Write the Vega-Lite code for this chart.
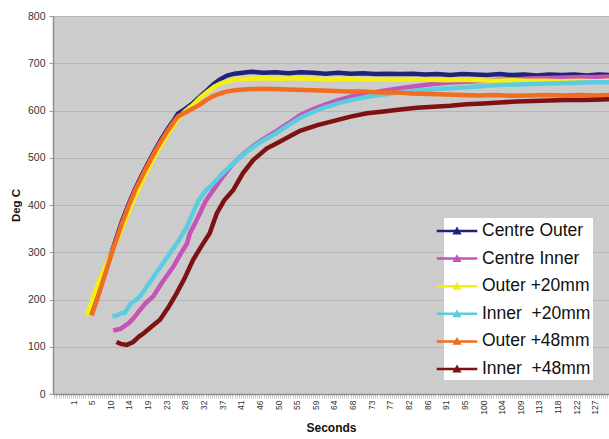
{
  "$schema": "https://vega.github.io/schema/vega-lite/v6.json",
  "width": 556,
  "height": 378,
  "autosize": {"type": "none"},
  "padding": {"left": 53, "top": 16, "right": 0, "bottom": 45},
  "background": "white",
  "config": {
    "font": "Liberation Sans",
    "view": {"fill": "#cccccc", "stroke": "#b4b4b4", "strokeWidth": 1}
  },
  "datasets": {
    "CO": [
      {"t":5.4,"v":168},{"t":6.5,"v":196},{"t":7.5,"v":222},{"t":8.5,"v":250},{"t":10,"v":291},{"t":11.5,"v":331},{"t":12.8,"v":365},{"t":14.4,"v":401},{"t":16,"v":434},{"t":17.6,"v":463},{"t":19.2,"v":490},{"t":20.8,"v":516},{"t":22.4,"v":541},{"t":24,"v":563},{"t":25.6,"v":583},{"t":26.3,"v":593},{"t":27,"v":597},{"t":28.2,"v":604},{"t":30,"v":616},{"t":31.7,"v":630},{"t":33.4,"v":643},{"t":35,"v":656},{"t":36.5,"v":666},{"t":38.2,"v":674},{"t":40,"v":678},{"t":42,"v":680},{"t":44,"v":682},{"t":47,"v":680},{"t":50,"v":681},{"t":53,"v":679},{"t":56,"v":681},{"t":59,"v":680},{"t":62,"v":678},{"t":65,"v":680},{"t":68,"v":678},{"t":71,"v":679},{"t":74,"v":677},{"t":77,"v":678},{"t":80,"v":677},{"t":83,"v":678},{"t":86,"v":676},{"t":89,"v":677},{"t":92,"v":675},{"t":95,"v":677},{"t":98,"v":676},{"t":101,"v":675},{"t":104,"v":677},{"t":107,"v":675},{"t":110,"v":676},{"t":113,"v":674},{"t":116,"v":676},{"t":119,"v":675},{"t":122,"v":676},{"t":125,"v":674},{"t":128,"v":676},{"t":130.4,"v":675}
    ],
    "CI": [
      {"t":10.7,"v":134},{"t":11.5,"v":136},{"t":12.5,"v":138},{"t":13.5,"v":144},{"t":14.5,"v":150},{"t":15.6,"v":160},{"t":17,"v":176},{"t":18.5,"v":192},{"t":20.4,"v":207},{"t":22.5,"v":236},{"t":25.2,"v":269},{"t":27,"v":297},{"t":28.5,"v":318},{"t":29.2,"v":340},{"t":30.5,"v":362},{"t":31.6,"v":382},{"t":33,"v":408},{"t":34.9,"v":432},{"t":37,"v":458},{"t":39.7,"v":488},{"t":42,"v":507},{"t":44.5,"v":525},{"t":47,"v":540},{"t":50.2,"v":557},{"t":53,"v":573},{"t":55.8,"v":590},{"t":59,"v":603},{"t":62,"v":613},{"t":65,"v":622},{"t":68,"v":629},{"t":72,"v":636},{"t":76,"v":642},{"t":80,"v":647},{"t":84,"v":652},{"t":88,"v":656},{"t":92,"v":659},{"t":96,"v":661},{"t":100,"v":663},{"t":104,"v":665},{"t":108,"v":666},{"t":112,"v":668},{"t":116,"v":669},{"t":120,"v":670},{"t":124,"v":671},{"t":127,"v":671},{"t":130.4,"v":672}
    ],
    "O20": [
      {"t":4.3,"v":166},{"t":5.5,"v":196},{"t":7,"v":233},{"t":8.5,"v":263},{"t":10,"v":291},{"t":11.5,"v":324},{"t":13,"v":355},{"t":14.5,"v":387},{"t":16,"v":418},{"t":17.6,"v":449},{"t":19.2,"v":477},{"t":20.8,"v":504},{"t":22.4,"v":529},{"t":24,"v":552},{"t":25.6,"v":572},{"t":26.4,"v":584},{"t":28,"v":598},{"t":30,"v":612},{"t":31.7,"v":627},{"t":33.4,"v":639},{"t":35,"v":650},{"t":36.5,"v":657},{"t":38.2,"v":662},{"t":40,"v":665},{"t":43,"v":667},{"t":47,"v":668},{"t":51,"v":667},{"t":55,"v":668},{"t":59,"v":667},{"t":63,"v":666},{"t":67,"v":667},{"t":71,"v":666},{"t":75,"v":666},{"t":79,"v":665},{"t":83,"v":666},{"t":87,"v":665},{"t":91,"v":664},{"t":95,"v":665},{"t":99,"v":664},{"t":103,"v":663},{"t":107,"v":664},{"t":111,"v":663},{"t":115,"v":663},{"t":119,"v":662},{"t":123,"v":663},{"t":127,"v":662},{"t":130.4,"v":663}
    ],
    "I20": [
      {"t":10.5,"v":164},{"t":11.5,"v":166},{"t":12.5,"v":170},{"t":13.5,"v":172},{"t":14.8,"v":190},{"t":16,"v":198},{"t":17.2,"v":207},{"t":18.4,"v":222},{"t":19.6,"v":237},{"t":21,"v":255},{"t":22.5,"v":274},{"t":24.4,"v":298},{"t":26.5,"v":325},{"t":28.4,"v":352},{"t":29.8,"v":380},{"t":31.2,"v":408},{"t":33,"v":430},{"t":34.9,"v":446},{"t":37,"v":466},{"t":39.7,"v":488},{"t":42,"v":506},{"t":44.5,"v":523},{"t":47,"v":537},{"t":50.2,"v":553},{"t":53,"v":569},{"t":55.8,"v":584},{"t":59,"v":597},{"t":62,"v":607},{"t":65,"v":615},{"t":68,"v":622},{"t":72,"v":629},{"t":76,"v":634},{"t":80,"v":639},{"t":84,"v":642},{"t":88,"v":645},{"t":92,"v":647},{"t":96,"v":649},{"t":100,"v":652},{"t":104,"v":654},{"t":108,"v":655},{"t":112,"v":656},{"t":116,"v":657},{"t":120,"v":658},{"t":124,"v":659},{"t":127,"v":660},{"t":130.4,"v":660}
    ],
    "O48": [
      {"t":5.5,"v":166},{"t":7,"v":205},{"t":8.5,"v":247},{"t":10,"v":288},{"t":11.5,"v":327},{"t":12.8,"v":361},{"t":14.4,"v":397},{"t":16,"v":431},{"t":17.6,"v":460},{"t":19.2,"v":487},{"t":20.8,"v":513},{"t":22.4,"v":537},{"t":24,"v":559},{"t":25.6,"v":579},{"t":26.4,"v":588},{"t":28,"v":595},{"t":29.7,"v":603},{"t":31.5,"v":612},{"t":33,"v":621},{"t":34.5,"v":629},{"t":36.5,"v":636},{"t":38,"v":640},{"t":40,"v":643},{"t":43,"v":645},{"t":47,"v":646},{"t":51,"v":645},{"t":55,"v":644},{"t":59,"v":643},{"t":63,"v":642},{"t":67,"v":640},{"t":71,"v":640},{"t":75,"v":638},{"t":79,"v":638},{"t":83,"v":636},{"t":87,"v":635},{"t":91,"v":634},{"t":95,"v":633},{"t":99,"v":632},{"t":103,"v":633},{"t":107,"v":631},{"t":111,"v":632},{"t":115,"v":633},{"t":119,"v":632},{"t":123,"v":633},{"t":127,"v":632},{"t":130.4,"v":633}
    ],
    "I48": [
      {"t":11.5,"v":110},{"t":12.5,"v":106},{"t":14,"v":104},{"t":15.5,"v":110},{"t":17,"v":122},{"t":18,"v":128},{"t":20,"v":143},{"t":22,"v":157},{"t":24,"v":183},{"t":26,"v":213},{"t":28,"v":246},{"t":30,"v":284},{"t":32,"v":313},{"t":34,"v":340},{"t":35.7,"v":382},{"t":37.5,"v":410},{"t":39.7,"v":432},{"t":42,"v":467},{"t":44.5,"v":495},{"t":47.8,"v":520},{"t":49.4,"v":527},{"t":52,"v":539},{"t":55.8,"v":557},{"t":60,"v":569},{"t":64,"v":578},{"t":68,"v":587},{"t":72,"v":594},{"t":76,"v":598},{"t":80,"v":602},{"t":84,"v":606},{"t":88,"v":608},{"t":92,"v":610},{"t":96,"v":613},{"t":100,"v":615},{"t":104,"v":617},{"t":108,"v":619},{"t":112,"v":620},{"t":116,"v":621},{"t":120,"v":622},{"t":124,"v":622},{"t":127,"v":623},{"t":130.4,"v":624}
    ]
  },
  "encoding": {
    "x": {
      "field": "t", "type": "quantitative",
      "scale": {"domain": [-3.83, 130.4], "nice": false, "zero": false},
      "axis": {
        "title": "Seconds", "titleFontSize": 12, "titleFontWeight": "bold", "titleColor": "#111111", "titlePadding": 8,
        "grid": false, "domainColor": "#8f8f8f", "domainWidth": 1.5,
        "tickColor": "#b0b0b0", "tickSize": 4, "tickWidth": 0.7,
        "labelAngle": 270, "labelAlign": "right", "labelBaseline": "middle", "labelFontSize": 8.5, "labelColor": "#333333", "labelPadding": 2,
        "labelOverlap": false, "labelFlush": false,
        "values": [-3.5,-3,-2.5,-2,-1.5,-1,-0.5,0,0.5,1,1.5,2,2.5,3,3.5,4,4.5,5,5.5,6,6.5,7,7.5,8,8.5,9,9.5,10,10.5,11,11.5,12,12.5,13,13.5,14,14.5,15,15.5,16,16.5,17,17.5,18,18.5,19,19.5,20,20.5,21,21.5,22,22.5,23,23.5,24,24.5,25,25.5,26,26.5,27,27.5,28,28.5,29,29.5,30,30.5,31,31.5,32,32.5,33,33.5,34,34.5,35,35.5,36,36.5,37,37.5,38,38.5,39,39.5,40,40.5,41,41.5,42,42.5,43,43.5,44,44.5,45,45.5,46,46.5,47,47.5,48,48.5,49,49.5,50,50.5,51,51.5,52,52.5,53,53.5,54,54.5,55,55.5,56,56.5,57,57.5,58,58.5,59,59.5,60,60.5,61,61.5,62,62.5,63,63.5,64,64.5,65,65.5,66,66.5,67,67.5,68,68.5,69,69.5,70,70.5,71,71.5,72,72.5,73,73.5,74,74.5,75,75.5,76,76.5,77,77.5,78,78.5,79,79.5,80,80.5,81,81.5,82,82.5,83,83.5,84,84.5,85,85.5,86,86.5,87,87.5,88,88.5,89,89.5,90,90.5,91,91.5,92,92.5,93,93.5,94,94.5,95,95.5,96,96.5,97,97.5,98,98.5,99,99.5,100,100.5,101,101.5,102,102.5,103,103.5,104,104.5,105,105.5,106,106.5,107,107.5,108,108.5,109,109.5,110,110.5,111,111.5,112,112.5,113,113.5,114,114.5,115,115.5,116,116.5,117,117.5,118,118.5,119,119.5,120,120.5,121,121.5,122,122.5,123,123.5,124,124.5,125,125.5,126,126.5,127,127.5,128,128.5,129,129.5,130],
        "labelExpr": "datum.value >= 1 && (datum.value - 1) % 4.5 == 0 ? '' + floor(datum.value) : ''"
      }
    },
    "y": {
      "field": "v", "type": "quantitative",
      "scale": {"domain": [0, 800], "nice": false},
      "axis": {
        "title": "Deg C", "titleFontSize": 11.5, "titleFontWeight": "bold", "titleColor": "#111111", "titlePadding": 6,
        "values": [0,100,200,300,400,500,600,700,800],
        "gridColor": "#b6b6b6", "gridWidth": 1,
        "domainColor": "#8f8f8f", "domainWidth": 1.5,
        "tickColor": "#9a9a9a", "tickSize": 4,
        "labelFontSize": 10.5, "labelColor": "#333333", "labelPadding": 4
      }
    }
  },
  "layer": [
    {"data": {"name": "CO"}, "mark": {"type": "line", "strokeWidth": 4.5, "clip": true},
     "encoding": {"color": {"datum": "Centre Outer", "type": "nominal",
       "scale": {"domain": ["Centre Outer", "Centre Inner", "Outer +20mm", "Inner\u00a0 +20mm", "Outer +48mm", "Inner\u00a0 +48mm"],
                 "range": ["#22227a", "#c653b6", "#f4ef12", "#5ccde0", "#f26c22", "#7e1212"]},
       "legend": {"title": null, "orient": "none", "legendX": 391, "legendY": 202, "fillColor": "white", "padding": 2,
         "symbolType": "M-1.95,-0.05H1.95V0.05H-1.95Z M-0.33,0.27L0,-0.29L0.33,0.27Z", "symbolSize": 400,
         "labelFontSize": 17.5, "labelColor": "#111111", "labelOffset": 14, "rowPadding": 7.6,
         "encode": {"symbols": {"update": {"fill": {"scale": "color", "field": "value"}, "stroke": {"value": "transparent"}, "fillOpacity": {"value": 1}}}}}}}},
    {"data": {"name": "CI"}, "mark": {"type": "line", "strokeWidth": 4.5, "clip": true},
     "encoding": {"color": {"datum": "Centre Inner", "type": "nominal"}}},
    {"data": {"name": "O20"}, "mark": {"type": "line", "strokeWidth": 4.5, "clip": true},
     "encoding": {"color": {"datum": "Outer +20mm", "type": "nominal"}}},
    {"data": {"name": "I20"}, "mark": {"type": "line", "strokeWidth": 4.5, "clip": true},
     "encoding": {"color": {"datum": "Inner\u00a0 +20mm", "type": "nominal"}}},
    {"data": {"name": "O48"}, "mark": {"type": "line", "strokeWidth": 4.5, "clip": true},
     "encoding": {"color": {"datum": "Outer +48mm", "type": "nominal"}}},
    {"data": {"name": "I48"}, "mark": {"type": "line", "strokeWidth": 4.5, "clip": true},
     "encoding": {"color": {"datum": "Inner\u00a0 +48mm", "type": "nominal"}}}
  ]
}
